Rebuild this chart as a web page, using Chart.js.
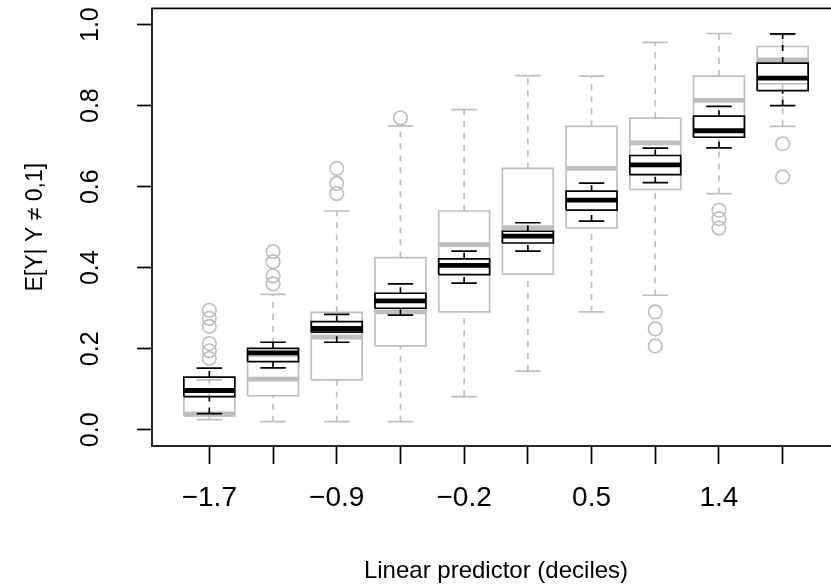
<!DOCTYPE html>
<html lang="en">
<head>
<meta charset="UTF-8">
<title>E[Y | Y != 0,1] by linear predictor decile</title>
<script src="https://cdn.jsdelivr.net/npm/chart.js"></script>
<style>
    html, body {
        margin: 0;
        padding: 0;
        background: #ffffff;
        overflow: hidden;
    }
    #chart {
        display: block;
    }
</style>
</head>
<body>
<canvas id="chart" width="850" height="588"></canvas>
<script>
// decile positions and the labels shown under them
const positions = [1, 2, 3, 4, 5, 6, 7, 8, 9, 10];
const tickLabels = ['\u22121.7', '', '\u22120.9', '', '\u22120.2', '', '0.5', '', '1.4', ''];
const yTicks = [0, 0.2, 0.4, 0.6, 0.8, 1.0];

// grey boxes (wide spread)
const grayLow  = [0.025, 0.020, 0.020, 0.020, 0.082, 0.145, 0.291, 0.332, 0.583, 0.749];
const grayQ1   = [0.034, 0.084, 0.123, 0.207, 0.291, 0.384, 0.498, 0.593, 0.722, 0.854];
const grayMed  = [0.039, 0.125, 0.229, 0.291, 0.457, 0.499, 0.645, 0.708, 0.813, 0.913];
const grayQ3   = [0.082, 0.182, 0.290, 0.425, 0.540, 0.645, 0.749, 0.769, 0.873, 0.946];
const grayHigh = [0.123, 0.334, 0.540, 0.750, 0.790, 0.874, 0.873, 0.956, 0.978, 0.975];
const grayOut  = [
    [0.176, 0.195, 0.213, 0.255, 0.275, 0.295],
    [0.360, 0.380, 0.415, 0.440],
    [0.583, 0.608, 0.645],
    [0.770],
    [],
    [],
    [],
    [0.207, 0.249, 0.291],
    [0.498, 0.521, 0.542],
    [0.624, 0.706]
];

// black boxes (narrow spread)
const blackLow  = [0.040, 0.153, 0.216, 0.283, 0.362, 0.441, 0.515, 0.610, 0.696, 0.800];
const blackQ1   = [0.082, 0.168, 0.241, 0.300, 0.383, 0.461, 0.542, 0.630, 0.722, 0.837];
const blackMed  = [0.097, 0.190, 0.250, 0.318, 0.406, 0.478, 0.567, 0.654, 0.738, 0.868];
const blackQ3   = [0.130, 0.201, 0.267, 0.337, 0.422, 0.490, 0.589, 0.677, 0.774, 0.905];
const blackHigh = [0.152, 0.216, 0.285, 0.360, 0.441, 0.511, 0.609, 0.695, 0.798, 0.977];

const GRAY = '#bebebe';
const BLACK = '#000000';
const HALF_BOX = 0.4;     // half box width, x units
const HALF_STAPLE = 0.2;  // half whisker cap width, x units

const gap = x => ({x: x, y: null});

function whiskerPoints(low, q1, q3, high) {
    const pts = [];
    positions.forEach((x, i) => {
        pts.push({x: x, y: low[i]}, {x: x, y: q1[i]}, gap(x));
        pts.push({x: x, y: q3[i]}, {x: x, y: high[i]}, gap(x));
    });
    return pts;
}

function staplePoints(low, high) {
    const pts = [];
    positions.forEach((x, i) => {
        pts.push({x: x - HALF_STAPLE, y: low[i]}, {x: x + HALF_STAPLE, y: low[i]}, gap(x));
        pts.push({x: x - HALF_STAPLE, y: high[i]}, {x: x + HALF_STAPLE, y: high[i]}, gap(x));
    });
    return pts;
}

function boxPoints(q1, q3) {
    const pts = [];
    positions.forEach((x, i) => {
        pts.push(
            {x: x - HALF_BOX, y: q1[i]}, {x: x + HALF_BOX, y: q1[i]},
            {x: x + HALF_BOX, y: q3[i]}, {x: x - HALF_BOX, y: q3[i]},
            {x: x - HALF_BOX, y: q1[i]}, gap(x)
        );
    });
    return pts;
}

function medianPoints(med) {
    const pts = [];
    positions.forEach((x, i) => {
        pts.push({x: x - HALF_BOX, y: med[i]}, {x: x + HALF_BOX, y: med[i]}, gap(x));
    });
    return pts;
}

function outlierPoints(out) {
    const pts = [];
    positions.forEach((x, i) => {
        out[i].forEach(v => pts.push({x: x, y: v}));
    });
    return pts;
}

function lineSet(data, color, width, dash, order) {
    return {
        data: data,
        showLine: true,
        borderColor: color,
        borderWidth: width,
        borderDash: dash,
        borderCapStyle: 'butt',
        pointRadius: 0,
        pointHoverRadius: 0,
        spanGaps: false,
        fill: false,
        tension: 0,
        order: order
    };
}

function boxplotSets(low, q1, med, q3, high, color, order) {
    return [
        lineSet(whiskerPoints(low, q1, q3, high), color, 1.7, [6, 6], order),
        lineSet(staplePoints(low, high), color, 1.7, [], order),
        lineSet(boxPoints(q1, q3), color, 1.7, [], order),
        lineSet(medianPoints(med), color, 4.8, [], order)
    ];
}

const grayOutliers = {
    data: outlierPoints(grayOut),
    showLine: false,
    pointStyle: 'circle',
    pointRadius: 6.8,
    pointHoverRadius: 6.8,
    pointBorderWidth: 1.6,
    pointBorderColor: GRAY,
    pointBackgroundColor: 'rgba(0,0,0,0)',
    order: 1
};

// box around the plotting region
const frame = {
    id: 'frame',
    afterDraw(chart) {
        const a = chart.chartArea;
        const ctx = chart.ctx;
        ctx.save();
        ctx.strokeStyle = BLACK;
        ctx.lineWidth = 1.7;
        ctx.strokeRect(a.left, a.top, a.right - a.left, a.bottom - a.top);
        ctx.restore();
    }
};

const FONT = "'Liberation Sans', Arial, Helvetica, sans-serif";

new Chart(document.getElementById('chart'), {
    type: 'scatter',
    data: {
        datasets: [
            ...boxplotSets(grayLow, grayQ1, grayMed, grayQ3, grayHigh, GRAY, 1),
            grayOutliers,
            ...boxplotSets(blackLow, blackQ1, blackMed, blackQ3, blackHigh, BLACK, 0)
        ]
    },
    options: {
        responsive: false,
        animation: false,
        events: [],
        layout: {padding: {left: 0, top: 8, right: 10, bottom: 0}},
        plugins: {
            legend: {display: false},
            tooltip: {enabled: false}
        },
        scales: {
            x: {
                type: 'linear',
                min: 0.1,
                max: 10.9,
                afterBuildTicks: s => { s.ticks = positions.map(v => ({value: v})); },
                afterFit: s => {
                    s.height = 142;
                    s.paddingLeft = 0;
                    s.paddingRight = 0;
                },
                border: {display: false},
                grid: {
                    drawOnChartArea: false,
                    drawTicks: true,
                    tickLength: 18,
                    tickColor: BLACK,
                    tickWidth: 1.7
                },
                ticks: {
                    autoSkip: false,
                    maxRotation: 0,
                    padding: 17,
                    color: BLACK,
                    font: {family: FONT, size: 28},
                    callback: (v, i) => tickLabels[i]
                },
                title: {
                    display: true,
                    text: 'Linear predictor (deciles)',
                    color: BLACK,
                    font: {family: FONT, size: 24},
                    padding: {top: 0, bottom: 2}
                }
            },
            y: {
                min: -0.04,
                max: 1.04,
                afterBuildTicks: s => { s.ticks = yTicks.map(v => ({value: v})); },
                afterFit: s => {
                    s.width = 152;
                    s.paddingTop = 0;
                    s.paddingBottom = 0;
                },
                border: {display: false},
                grid: {
                    drawOnChartArea: false,
                    drawTicks: true,
                    tickLength: 15,
                    tickColor: BLACK,
                    tickWidth: 1.7
                },
                ticks: {
                    minRotation: 90,
                    maxRotation: 90,
                    crossAlign: 'center',
                    padding: 29,
                    color: BLACK,
                    font: {family: FONT, size: 25},
                    callback: v => v.toFixed(1)
                },
                title: {
                    display: true,
                    text: 'E[Y| Y \u2260 0,1]',
                    color: BLACK,
                    font: {family: FONT, size: 23},
                    padding: {top: 22, bottom: 0}
                }
            }
        }
    },
    plugins: [frame]
});
</script>
</body>
</html>
